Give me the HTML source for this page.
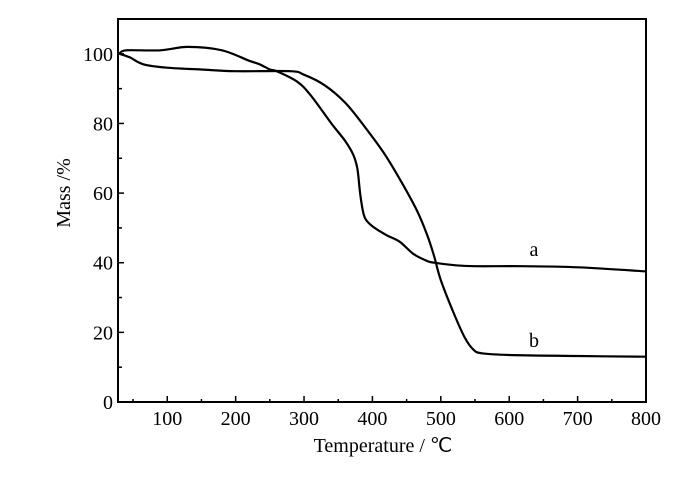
<!DOCTYPE html>
<html><head><meta charset="utf-8"><style>
body{margin:0;background:#fff;}
svg text{font-family:"Liberation Serif",serif;fill:#000;}
</style></head><body>
<svg id="chart" width="700" height="481" viewBox="0 0 700 481" xmlns="http://www.w3.org/2000/svg">
<g id="axes"></g><g id="series"></g>
</svg>
<script>
const xTicks=[100,200,300,400,500,600,700,800];
const yTicks=[0,20,40,60,80,100];
const seriesAx=[30,40,90,130,180,220,235,250,260,290,310,340,360,372,378,382,386,390,400,420,440,460,480,490,520,550,620,700,800];
const seriesAy=[100,101,101,102,101,98,97,95.5,95,92,88,80,75,71,67,60,55,52.5,50.5,48,46,42.5,40.5,40,39.3,39,39,38.7,37.5];
const seriesBx=[30,45,65,100,150,200,280,300,330,360,385,415,440,465,480,490,500,520,535,548,560,600,700,800];
const seriesBy=[100,99,97,96,95.5,95,95,94,91,86,80,72,64,55,48,42,35,25,18.5,15,14,13.5,13.2,13];
const X0=28,X1=800,Y0=0,Y1=110,L=118,R=646,T=19,B=402;
const sx=v=>L+(v-X0)/(X1-X0)*(R-L);
const sy=v=>B-(v-Y0)/(Y1-Y0)*(B-T);
const NS='http://www.w3.org/2000/svg';
const axes=document.getElementById('axes'),ser=document.getElementById('series');
function mk(tag,attrs,parent){const e=document.createElementNS(NS,tag);for(const k in attrs)e.setAttribute(k,attrs[k]);parent.appendChild(e);return e;}
const frame=mk('rect',{x:L,y:T,width:R-L,height:B-T,fill:'none',stroke:'#000','stroke-width':2},axes);


for(let v=50;v<=800;v+=50){const big=v%100===0;const t=mk('line',{x1:sx(v),x2:sx(v),y1:B,y2:B-(big?6:3),stroke:'#000','stroke-width':1.5},axes);

}
xTicks.forEach(v=>{const t=mk('text',{x:sx(v),y:B+23,'text-anchor':'middle','font-size':20},axes);t.textContent=v;

});
for(let v=10;v<=100;v+=10){const big=v%20===0;const t=mk('line',{x1:L,x2:L+(big?6:4),y1:sy(v),y2:sy(v),stroke:'#000','stroke-width':1.5},axes);

}
yTicks.forEach(v=>{const t=mk('text',{x:L-5,y:sy(v)+7,'text-anchor':'end','font-size':20},axes);t.textContent=v;

});
const xt=mk('text',{x:383,y:452,'text-anchor':'middle','font-size':20},axes);xt.textContent='Temperature / ℃';


const yt=mk('text',{x:0,y:0,'text-anchor':'middle','font-size':20,transform:'translate(70,193) rotate(-90)'},axes);yt.textContent='Mass /%';


function line(xs,ys,name){const P=xs.map((x,i)=>[sx(x),sy(ys[i])]);let d='M'+P[0][0].toFixed(1)+','+P[0][1].toFixed(1);
for(let i=0;i<P.length-1;i++){const p0=P[i-1]||P[i],p1=P[i],p2=P[i+1],p3=P[i+2]||P[i+1];const k=1/6;
d+='C'+(p1[0]+(p2[0]-p0[0])*k).toFixed(1)+','+(p1[1]+(p2[1]-p0[1])*k).toFixed(1)+' '+(p2[0]-(p3[0]-p1[0])*k).toFixed(1)+','+(p2[1]-(p3[1]-p1[1])*k).toFixed(1)+' '+p2[0].toFixed(1)+','+p2[1].toFixed(1);}
const p=mk('path',{d:d,fill:'none',stroke:'#000','stroke-width':2.2,'stroke-linejoin':'round'},ser);

}
line(seriesAx,seriesAy,'curve-a');
line(seriesBx,seriesBy,'curve-b');
const la=mk('text',{x:534,y:256,'text-anchor':'middle','font-size':20},ser);la.textContent='a';


const lb=mk('text',{x:534,y:347,'text-anchor':'middle','font-size':20},ser);lb.textContent='b';


</script>
</body></html>
